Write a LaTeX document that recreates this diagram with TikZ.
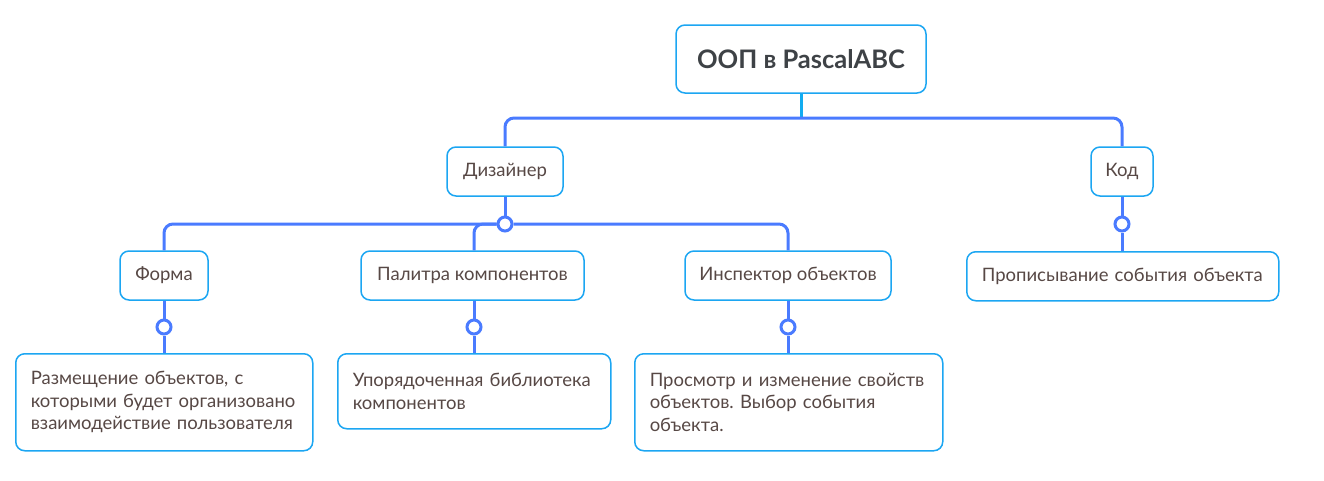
\documentclass[tikz,border=0pt]{standalone}
\usepackage{fontspec}
\setmainfont{Lato}
\frenchspacing
\definecolor{frame}{HTML}{1CA6F2}
\definecolor{link}{HTML}{4A7BFF}
\definecolor{rootlink}{HTML}{12ACF0}
\definecolor{txt}{HTML}{574845}
\definecolor{roottxt}{HTML}{3E4246}
\tikzset{
  topic/.style={draw=frame, line width=1.5pt, rounded corners=9pt, fill=white,
    text=txt, font=\fontsize{18.5}{22.5}\selectfont, minimum height=49pt, inner sep=0pt},
  leaf/.style={topic, align=left, inner xsep=15pt, inner ysep=8pt},
  conn/.style={link, line width=3pt, rounded corners=9pt},
  knob/.style={circle, draw=link, line width=3pt, fill=white, minimum size=14pt, inner sep=0pt}
}
\begin{document}
\begin{tikzpicture}[x=1pt,y=-1pt]
  \useasboundingbox (0,0) rectangle (1324,480);
  % main topic
  \node[topic, minimum width=250pt, minimum height=68pt, text=roottxt,
    font=\fontsize{25.5}{30}\selectfont\bfseries] (root) at (801,59) {ООП в PascalABC};
  \node[topic, minimum width=116pt] (dz) at (505,171.5) {Дизайнер};
  \node[topic, minimum width=62pt] (kod) at (1122,171.5) {Код};
  \node[topic, minimum width=88pt] (forma) at (164,275.5) {Форма};
  \node[topic, minimum width=223pt] (pal) at (472.5,275.5) {Палитра компонентов};
  \node[topic, minimum width=206pt] (insp) at (788,275.5) {Инспектор объектов};
  % details
  \node[leaf, text width=267pt, minimum height=97pt, anchor=north west] (razm) at (15,353)
    {Размещение объектов, с\\которыми будет организовано\\взаимодействие пользователя};
  \node[leaf, text width=243pt, minimum height=75pt, anchor=north west] (upor) at (337,353)
    {Упорядоченная библиотека\\компонентов};
  \node[leaf, text width=278pt, minimum height=97pt, anchor=north west] (prosm) at (634,353)
    {Просмотр и изменение свойств\\объектов. Выбор события\\объекта.};
  \node[leaf, text width=282pt, minimum height=49pt, anchor=north west] (propis) at (966,251)
    {Прописывание события объекта};
  \coordinate (bar) at (801,118);
  % connectors
  \draw[rootlink, line width=3pt] (root.south) -- (bar);
  \draw[conn] (dz.north) |- (bar) -| (kod.north);
  \node[knob] (kdz) at (505,224) {};
  \draw[conn] (dz.south) -- (kdz.north);
  \draw[conn] (forma.north) |- (kdz.west);
  \draw[conn] (pal.north -| 474,0) |- (kdz.west);
  \draw[conn] (insp.north) |- (kdz.east);
  \node[knob] (kkod) at (1122,224) {};
  \draw[conn] (kod.south) -- (kkod.north);
  \draw[conn] (kkod.south) -- (propis.north -| kkod);
  \node[knob] (kforma) at (164,327) {};
  \draw[conn] (forma.south) -- (kforma.north);
  \draw[conn] (kforma.south) -- (razm.north -| kforma);
  \node[knob] (kpal) at (474,327) {};
  \draw[conn] (pal.south -| kpal) -- (kpal.north);
  \draw[conn] (kpal.south) -- (upor.north -| kpal);
  \node[knob] (kinsp) at (788,327) {};
  \draw[conn] (insp.south) -- (kinsp.north);
  \draw[conn] (kinsp.south) -- (prosm.north -| kinsp);
\end{tikzpicture}
\end{document}
